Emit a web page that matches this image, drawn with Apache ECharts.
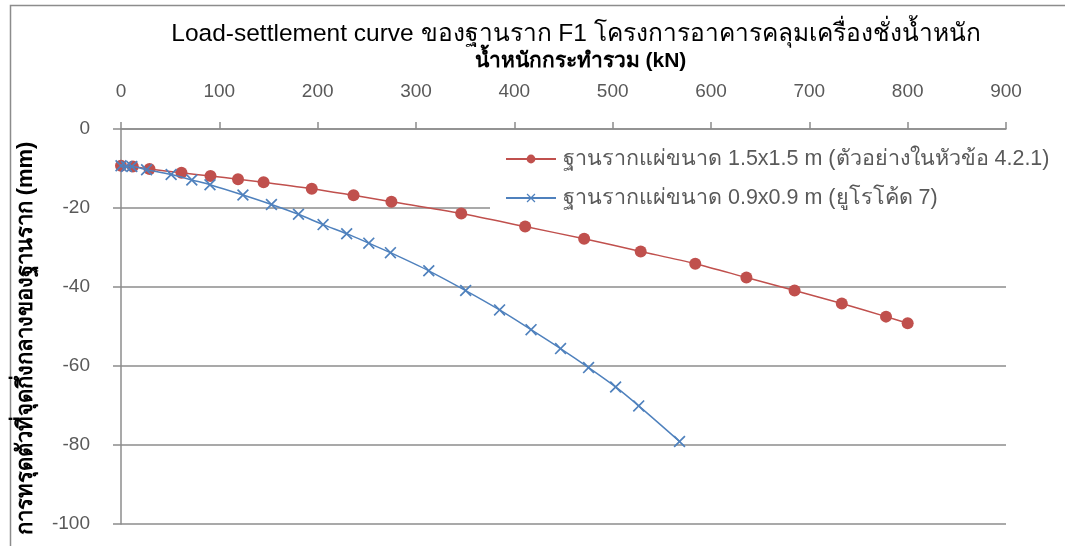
<!DOCTYPE html>
<html>
<head>
<meta charset="utf-8">
<script src="https://cdn.jsdelivr.net/npm/echarts@6/dist/echarts.min.js"></script>
<style>
  html, body { margin: 0; padding: 0; background: #fff; }
  #chart { width: 1065px; height: 546px; }
</style>
</head>
<body>
<div id="chart"></div>
<script>
// Load (kN) vs. settlement at footing centre (mm)
const footingLargeLoad = [0, 12, 29, 61.5, 91, 119, 145, 194, 236.5, 275, 346, 411, 471, 528.5, 584, 636, 685, 733, 778, 800];
const footingLargeSettle = [-9.3, -9.5, -10.1, -11.1, -11.9, -12.7, -13.5, -15.1, -16.8, -18.4, -21.4, -24.7, -27.8, -31.0, -34.1, -37.6, -40.9, -44.2, -47.5, -49.2];

const footingSmallLoad = [0, 5.6, 11, 26, 51, 72, 90.5, 124, 153, 180.5, 205.5, 229.5, 252, 274, 313, 350.5, 385, 417, 447, 475.5, 503, 526.5, 568];
const footingSmallSettle = [-9.3, -9.5, -9.5, -10.3, -11.5, -12.9, -14.1, -16.7, -19.1, -21.6, -24.2, -26.5, -28.9, -31.3, -35.9, -40.9, -45.8, -50.8, -55.6, -60.4, -65.3, -70.1, -79.1];

const seriesNames = [
  'ฐานรากแผ่ขนาด 1.5x1.5 m (ตัวอย่างในหัวข้อ 4.2.1)',
  'ฐานรากแผ่ขนาด 0.9x0.9 m (ยูโรโค้ด 7)'
];
const chartTitle = 'Load-settlement curve ของฐานราก F1 โครงการอาคารคลุมเครื่องชั่งน้ำหนัก';
const xAxisTitle = 'น้ำหนักกระทำรวม (kN)';
const yAxisTitle = 'การทรุดตัวที่จุดกึ่งกลางของฐานราก (mm)';

const pairs = (xs, ys) => xs.map((x, i) => [x, ys[i]]);

// Cross marker drawn as a filled outline
const crossPath = 'path://M1,0 L5,4 L9,0 L10,1 L6,5 L10,9 L9,10 L5,6 L1,10 L0,9 L4,5 L0,1 Z';

const FONT = '"Liberation Sans", Arial, "Noto Sans", sans-serif';
const gridColor = '#8c8c8c';
const labelColor = '#595959';

const chart = echarts.init(document.getElementById('chart'), null, { renderer: 'canvas' });
chart.setOption({
  backgroundColor: '#fff',
  animation: false,
  textStyle: { fontFamily: FONT },
  title: {
    text: chartTitle,
    left: 571, top: 17, textAlign: 'center',
    textStyle: { fontFamily: FONT, fontSize: 24.5, fontWeight: 'normal', color: '#000' }
  },
  graphic: [{
    type: 'rect', left: 8, top: 3, z: -1,
    shape: { width: 1070, height: 560 },
    style: { fill: 'none', stroke: '#8c8c8c', lineWidth: 1.5 }
  }],
  legend: {
    orient: 'vertical',
    left: 490, top: 142,
    padding: [6, 10, 6, 15],
    itemGap: 17,
    itemWidth: 50, itemHeight: 11,
    backgroundColor: '#fff',
    textStyle: { fontFamily: FONT, fontSize: 21.5, color: labelColor, padding: [0, 0, 0, 2] },
    data: seriesNames
  },
  grid: { left: 121, right: 59, top: 129, bottom: 22, containLabel: false },
  xAxis: {
    type: 'value', position: 'top',
    min: 0, max: 900, interval: 100,
    name: xAxisTitle, nameLocation: 'middle', nameGap: 57,
    nameTextStyle: { fontFamily: FONT, fontSize: 21, fontWeight: 'bold', color: '#000', padding: [0, 0, 0, 34] },
    axisLine: { show: true, onZero: false, lineStyle: { color: gridColor, width: 1.5 } },
    axisTick: { show: true, inside: false, length: 7, lineStyle: { color: gridColor, width: 1.5 } },
    axisLabel: { margin: 28, fontSize: 19, color: labelColor, fontFamily: FONT },
    splitLine: { show: false }
  },
  yAxis: {
    type: 'value',
    min: -100, max: 0, interval: 20,
    name: yAxisTitle, nameLocation: 'middle', nameGap: 84, nameRotate: 90,
    nameTextStyle: { fontFamily: FONT, fontSize: 22, fontWeight: 'bold', color: '#000', padding: [0, 24, 0, 0] },
    axisLine: { show: true, onZero: false, lineStyle: { color: gridColor, width: 1.5 } },
    axisTick: { show: true, inside: false, length: 8, lineStyle: { color: gridColor, width: 1.5 } },
    axisLabel: { margin: 31, fontSize: 19, color: labelColor, fontFamily: FONT },
    splitLine: { show: true, lineStyle: { color: gridColor, width: 1.5 } }
  },
  series: [
    {
      name: seriesNames[0], type: 'line', smooth: 0.3,
      data: pairs(footingLargeLoad, footingLargeSettle),
      symbol: 'circle', symbolSize: 12,
      lineStyle: { color: '#c0504d', width: 1.5 },
      itemStyle: { color: '#c0504d' },
      z: 3
    },
    {
      name: seriesNames[1], type: 'line', smooth: 0.3,
      data: pairs(footingSmallLoad, footingSmallSettle),
      symbol: crossPath, symbolSize: 12,
      lineStyle: { color: '#4f81bd', width: 1.5 },
      itemStyle: { color: '#4f81bd' },
      z: 4
    }
  ]
});
</script>
</body>
</html>
